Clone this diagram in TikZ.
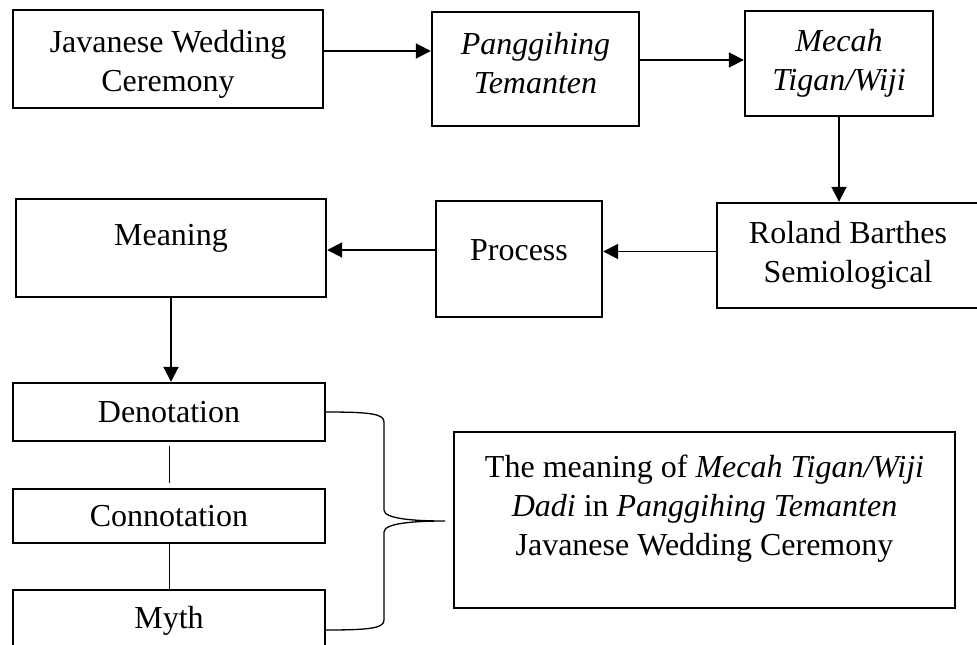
\documentclass[tikz,border=0pt]{standalone}
\usepackage{fontspec}
\setmainfont{Liberation Serif}
\usetikzlibrary{arrows.meta}
\tikzset{
    box/.style ={
        rectangle,
        inner sep=0pt,
        align=center,
        line width=2.4pt,
        draw=black
    },
    arr/.style ={
        line width=1.9pt,
        -{Triangle[length=15pt,width=15pt]}
    }
}

\begin{document}
\begin{tikzpicture}[x=1pt,y=-1pt,font=\fontsize{32}{39}\selectfont]
    \useasboundingbox (0,0) rectangle (977,645);

        \node[box,minimum width=310pt,minimum height=98pt,text height=71pt] (CEREMONY) at (168,59) {Javanese Wedding\\Ceremony};
        \node[box,minimum width=207pt,minimum height=114pt,text depth=13pt] (PANGGIH) at (535.5,69) {\textit{Panggihing}\\\textit{Temanten}};
        \node[box,minimum width=188pt,minimum height=105pt] (MECAH) at (839,63.5) {\textit{Mecah}\\\textit{Tigan/Wiji}};
        \node[box,minimum width=262pt,minimum height=105pt] (BARTHES) at (848,255.5) {Roland Barthes\\Semiological};
        \node[box,minimum width=166pt,minimum height=116pt,text height=22pt,text depth=19pt] (PROCESS) at (519,259) {Process};
        \node[box,minimum width=310pt,minimum height=98pt,text height=22pt,text depth=28pt] (MEANING) at (171,248) {Meaning};
        \node[box,minimum width=312pt,minimum height=58pt] (DENOT) at (169,412) {Denotation};
        \node[box,minimum width=312pt,minimum height=54pt] (CONNOT) at (169,516) {Connotation};
        \node[box,minimum width=312pt,minimum height=62pt] (MYTH) at (169,621) {Myth};
        \node[box,minimum width=501pt,minimum height=176pt,text depth=29pt] (RESULT) at (704.5,520) {The meaning of \textit{Mecah Tigan/Wiji}\\\textit{Dadi} in \textit{Panggihing Temanten}\\Javanese Wedding Ceremony};
        \coordinate (TIP) at (445,521);

        \draw[arr] ([yshift=8pt]CEREMONY.east) -- ([yshift=8pt]CEREMONY.east -| PANGGIH.west);
        \draw[arr] ([yshift=9pt]PANGGIH.east) -- ([yshift=9pt]PANGGIH.east -| MECAH.west);
        \draw[arr] (MECAH.south) -- (MECAH.south |- BARTHES.north);
        \draw[arr] ([yshift=4pt]BARTHES.west) -- ([yshift=4pt]BARTHES.west -| PROCESS.east);
        \draw[arr] ([yshift=9pt]PROCESS.west) -- ([yshift=9pt]PROCESS.west -| MEANING.east);
        \draw[arr] (MEANING.south) -- (MEANING.south |- DENOT.north);
        \draw[line width=1pt,shorten <=4pt,shorten >=5pt] (DENOT.south) -- (CONNOT.north);
        \draw[line width=1pt] (CONNOT.south) -- (MYTH.north);
        % brace
        \draw[line width=1.3pt] (DENOT.east) .. controls +(45,0) and +(0,-8) .. (384,422) -- (384,510)
            .. controls +(0,9) and +(-30,0) .. (TIP)
            .. controls +(-30,0) and +(0,-9) .. (384,532) -- (384,620)
            .. controls +(0,8) and +(45,0) .. ([yshift=-9pt]MYTH.east);
    \end{tikzpicture}
\end{document}
